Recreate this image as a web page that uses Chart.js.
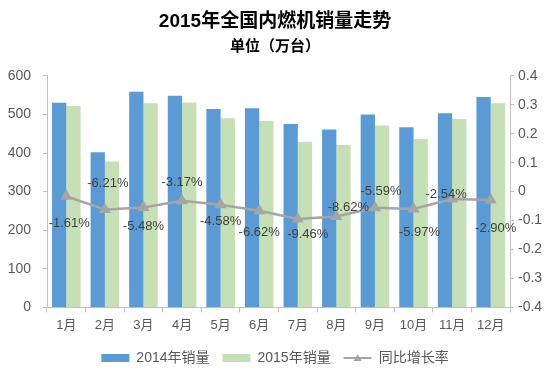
<!DOCTYPE html>
<html><head><meta charset="utf-8">
<script src="https://cdn.jsdelivr.net/npm/chart.js@4/dist/chart.umd.min.js"></script>
<style>html,body{margin:0;padding:0;background:#fff}#wrap{width:550px;height:381px}</style>
</head><body><div id="wrap"><canvas id="c" width="550" height="381"></canvas></div>
<script>
const categories = ['1月','2月','3月','4月','5月','6月','7月','8月','9月','10月','11月','12月'];
const sales2014 = [530, 402, 559, 548, 514, 516, 475, 461, 500, 467, 503, 545];
const sales2015 = [522, 378, 529, 531, 490, 483, 429, 421, 471, 436, 488, 529];
const growthRate = [-0.0161, -0.0621, -0.0548, -0.0317, -0.0458, -0.0662, -0.0946, -0.0862, -0.0559, -0.0597, -0.0254, -0.0290];
const growthLabels = ['-1.61%','-6.21%','-5.48%','-3.17%','-4.58%','-6.62%','-9.46%','-8.62%','-5.59%','-5.97%','-2.54%','-2.90%'];
// label placement (style): [dx, dy] from the point
const labelOffsets = [[3,27],[3,-26],[0,19],[0,-18],[0,17],[0,22],[10,15],[12,-9],[6,-16],[6,24],[-6,-5],[5,28]];

const FONT = "'Liberation Sans', 'Noto Sans CJK SC', sans-serif";
const TXT = '#595959';

const dataLabelPlugin = {
  id: 'dataLabels',
  afterDatasetsDraw(chart) {
    const meta = chart.getDatasetMeta(2);
    const ctx = chart.ctx;
    ctx.save();
    ctx.font = '13px ' + FONT;
    ctx.fillStyle = '#404040';
    ctx.textAlign = 'center';
    ctx.textBaseline = 'middle';
    meta.data.forEach((pt, i) => {
      const o = labelOffsets[i];
      ctx.fillText(growthLabels[i], pt.x + o[0], pt.y + o[1]);
    });
    ctx.restore();
  }
};

const legendMarkerPlugin = {
  id: 'legendMarker',
  afterDraw(chart) {
    const lg = chart.legend;
    if (!lg || !lg.legendHitBoxes || !lg.legendItems) return;
    const idx = lg.legendItems.findIndex(it => it.datasetIndex === 2);
    const hb = lg.legendHitBoxes[idx];
    if (!hb) return;
    const bw = lg.options.labels.boxWidth;
    const fs = lg.options.labels.font.size;
    const x = hb.left + bw / 2, y = hb.top + fs / 2;
    const ctx = chart.ctx;
    ctx.save();
    ctx.fillStyle = '#A5A5A5';
    ctx.beginPath();
    ctx.moveTo(x, y - 4);
    ctx.lineTo(x + 4, y + 3);
    ctx.lineTo(x - 4, y + 3);
    ctx.closePath();
    ctx.fill();
    ctx.restore();
  }
};

new Chart(document.getElementById('c'), {
  data: {
    labels: categories,
    datasets: [
      { type: 'bar', label: '2014年销量', data: sales2014, backgroundColor: '#5B9BD5', yAxisID: 'y', order: 2, categoryPercentage: 0.74, barPercentage: 1.0 },
      { type: 'bar', label: '2015年销量', data: sales2015, backgroundColor: '#C5E0B4', yAxisID: 'y', order: 2, categoryPercentage: 0.74, barPercentage: 1.0 },
      { type: 'line', label: '同比增长率', data: growthRate, borderColor: '#A5A5A5', backgroundColor: '#A5A5A5', borderWidth: 2.5, pointStyle: 'triangle', pointRadius: 4.5, pointBackgroundColor: '#A5A5A5', pointBorderColor: '#A5A5A5', yAxisID: 'y1', order: 1, tension: 0 }
    ]
  },
  options: {
    responsive: false,
    animation: false,
    layout: { padding: { left: 0, right: 0, top: 0, bottom: 6 } },
    scales: {
      x: {
        grid: { display: true, drawOnChartArea: false, offset: true, tickLength: 5, color: '#BFBFBF' },
        border: { display: true, color: '#BFBFBF' },
        ticks: { font: { size: 13, family: FONT }, color: TXT, padding: 5 }
      },
      y: {
        position: 'left', min: 0, max: 600,
        ticks: { stepSize: 100, font: { size: 14, family: FONT }, color: TXT, padding: 12 },
        grid: { display: true, drawOnChartArea: false, tickLength: 4, color: '#BFBFBF' },
        border: { display: true, color: '#BFBFBF' },
        afterFit(scale) { scale.width = 47; }
      },
      y1: {
        position: 'right', min: -0.4, max: 0.4,
        ticks: { stepSize: 0.1, font: { size: 14, family: FONT }, color: TXT, padding: 4 },
        grid: { display: true, drawOnChartArea: false, tickLength: 4, color: '#BFBFBF' },
        border: { display: true, color: '#BFBFBF' },
        afterFit(scale) { scale.width = 40; }
      }
    },
    plugins: {
      title: { display: true, text: '2015年全国内燃机销量走势', font: { size: 19, weight: 'bold', family: FONT }, color: '#000', padding: { top: 10, bottom: 3 } },
      subtitle: { display: true, text: '单位（万台）', font: { size: 15, weight: 'bold', family: FONT }, color: '#000', padding: { top: 2, bottom: 20 } },
      legend: {
        position: 'bottom',
        labels: {
          usePointStyle: true, pointStyleWidth: 28, boxWidth: 28, boxHeight: 8, padding: 13,
          font: { size: 14, family: FONT }, color: TXT,
          sort: (a, b) => a.datasetIndex - b.datasetIndex,
          generateLabels(chart) {
            const items = Chart.defaults.plugins.legend.labels.generateLabels(chart);
            items.forEach(it => {
              const ds = chart.data.datasets[it.datasetIndex];
              if (ds.type === 'line') { it.pointStyle = 'line'; it.lineWidth = 2; it.strokeStyle = '#A5A5A5'; }
              else { it.pointStyle = 'rect'; it.lineWidth = 0; }
            });
            return items;
          }
        }
      },
      tooltip: { enabled: false }
    }
  },
  plugins: [dataLabelPlugin, legendMarkerPlugin]
});
</script>
</body></html>
